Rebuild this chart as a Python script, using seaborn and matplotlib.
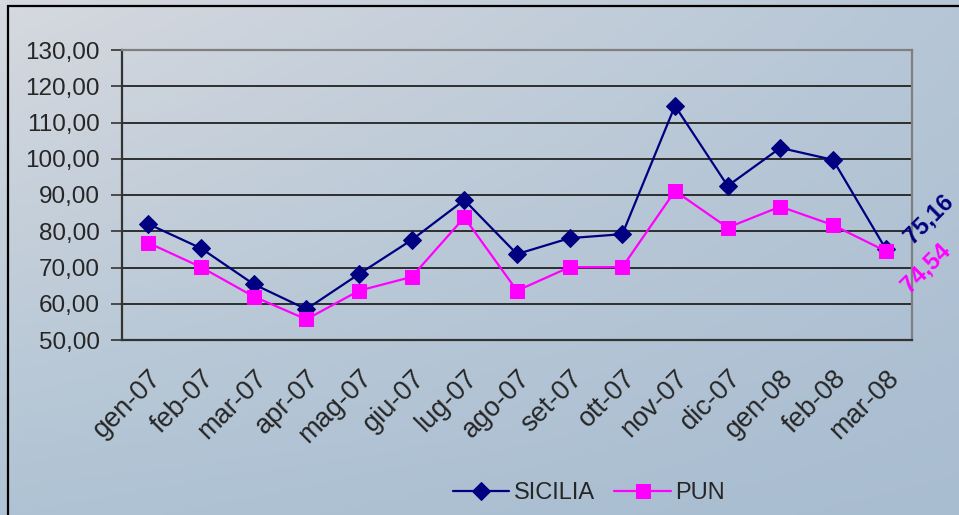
# Prezzi mensili SICILIA vs PUN, gen-07 .. mar-08

import numpy as np
import pandas as pd
import matplotlib
matplotlib.use("Agg")
import matplotlib.pyplot as plt
import matplotlib.transforms as mtransforms
import seaborn as sns
from matplotlib.patches import Rectangle
from matplotlib.colors import to_rgb

# data
months = ["gen-07", "feb-07", "mar-07", "apr-07", "mag-07", "giu-07", "lug-07", "ago-07",
          "set-07", "ott-07", "nov-07", "dic-07", "gen-08", "feb-08", "mar-08"]
sicilia = [82.0, 75.3, 65.4, 58.5, 68.2, 77.6, 88.6, 73.7, 78.1, 79.2, 114.6, 92.5, 103.0, 99.7, 75.16]
pun = [76.8, 70.1, 62.0, 55.7, 63.6, 67.4, 83.8, 63.6, 70.1, 70.1, 91.1, 81.0, 86.8, 81.7, 74.54]
y_ticks = [50, 60, 70, 80, 90, 100, 110, 120, 130]

df = pd.DataFrame({"mese": months, "x": range(len(months)), "SICILIA": sicilia, "PUN": pun})

sns.set_theme(style="white")
plt.rcParams["font.family"] = ["Liberation Sans", "DejaVu Sans"]

W, H = 959, 515
fig = plt.figure(figsize=(W / 100, H / 100), dpi=100)

# sky-ish background, gradient from the corner colours
bg = fig.add_axes([0, 0, 1, 1], zorder=-10)
c_tl, c_tr = np.array(to_rgb("#d6d9df")), np.array(to_rgb("#b6c6d6"))
c_bl, c_br = np.array(to_rgb("#afc3d4")), np.array(to_rgb("#a9bdd1"))
u = np.linspace(0, 1, 200)[None, :, None]
v = np.linspace(0, 1, 120)[:, None, None]
img = (1 - v) * ((1 - u) * c_tl + u * c_tr) + v * ((1 - u) * c_bl + u * c_br)
bg.imshow(img, aspect="auto", extent=[0, 1, 0, 1])
bg.set_axis_off()

# outer chart frame (cut by the image edge)
fig.patches.append(Rectangle((8 / W, -0.1), 1.2, 1 - 6 / H + 0.1, transform=fig.transFigure,
                             fill=False, edgecolor="black", linewidth=1.6, zorder=-5))

ax = fig.add_axes([122 / W, 1 - 340 / H, (912 - 122) / W, (340 - 50) / H])
ax.patch.set_alpha(0)

sns.lineplot(data=df, x="x", y="SICILIA", ax=ax, color="#000080", marker="D", markersize=9,
             markeredgecolor="#000080", linewidth=1.6, label="SICILIA", sort=False)
sns.lineplot(data=df, x="x", y="PUN", ax=ax, color="#ff00ff", marker="s", markersize=10,
             markeredgecolor="#ff00ff", linewidth=1.6, label="PUN", sort=False)

ax.set_ylim(50, 130)
ax.set_xlim(-0.5, len(months) - 0.5)
ax.set_yticks(y_ticks)
ax.set_yticklabels([f"{t:.2f}".replace(".", ",") for t in y_ticks], fontsize=17.5)
ax.set_xticks(range(len(months)))
ax.set_xticklabels(months, rotation=45, ha="right", va="top", rotation_mode="anchor",
                   fontsize=19.5)
# nudge the slanted labels a little left of the category centre
shift = mtransforms.ScaledTranslation(-12 / 100, 0, fig.dpi_scale_trans)
for lbl in ax.get_xticklabels():
    lbl.set_transform(lbl.get_transform() + shift)
ax.set_xticks(np.arange(-0.5, len(months), 1), minor=True)
ax.tick_params(axis="x", which="major", length=0, pad=18)
ax.tick_params(axis="x", which="minor", length=8, width=1.2, color="#333333", direction="out")
ax.tick_params(axis="y", length=8, width=1.2, color="#333333", direction="out", pad=8, left=True)
ax.set_xlabel("")
ax.set_ylabel("")

ax.grid(axis="y", color="#222222", linewidth=1.3)
ax.set_axisbelow(True)
for side in ["left", "bottom"]:
    ax.spines[side].set_color("#333333")
    ax.spines[side].set_linewidth(1.6)
for side in ["top", "right"]:
    ax.spines[side].set_color("#7f7f7f")
    ax.spines[side].set_linewidth(1.6)

# end-of-series labels
last = len(months) - 1
ax.annotate(f"{sicilia[-1]:.2f}".replace(".", ","), xy=(last, sicilia[-1]), xytext=(43, 30),
            textcoords="offset pixels", rotation=45, ha="center", va="center",
            fontsize=17, fontweight="bold", color="#000080", annotation_clip=False)
ax.annotate(f"{pun[-1]:.2f}".replace(".", ","), xy=(last, pun[-1]), xytext=(40, -17),
            textcoords="offset pixels", rotation=45, ha="center", va="center",
            fontsize=17, fontweight="bold", color="#ff00ff", annotation_clip=False)

ax.legend(loc="center", bbox_to_anchor=(589 / W, 1 - 493 / H), bbox_transform=fig.transFigure,
          ncol=2, frameon=False, handlelength=2.4, columnspacing=0.8, handletextpad=0.2,
          prop={"size": 17})

fig.savefig("out.png", dpi=100)
